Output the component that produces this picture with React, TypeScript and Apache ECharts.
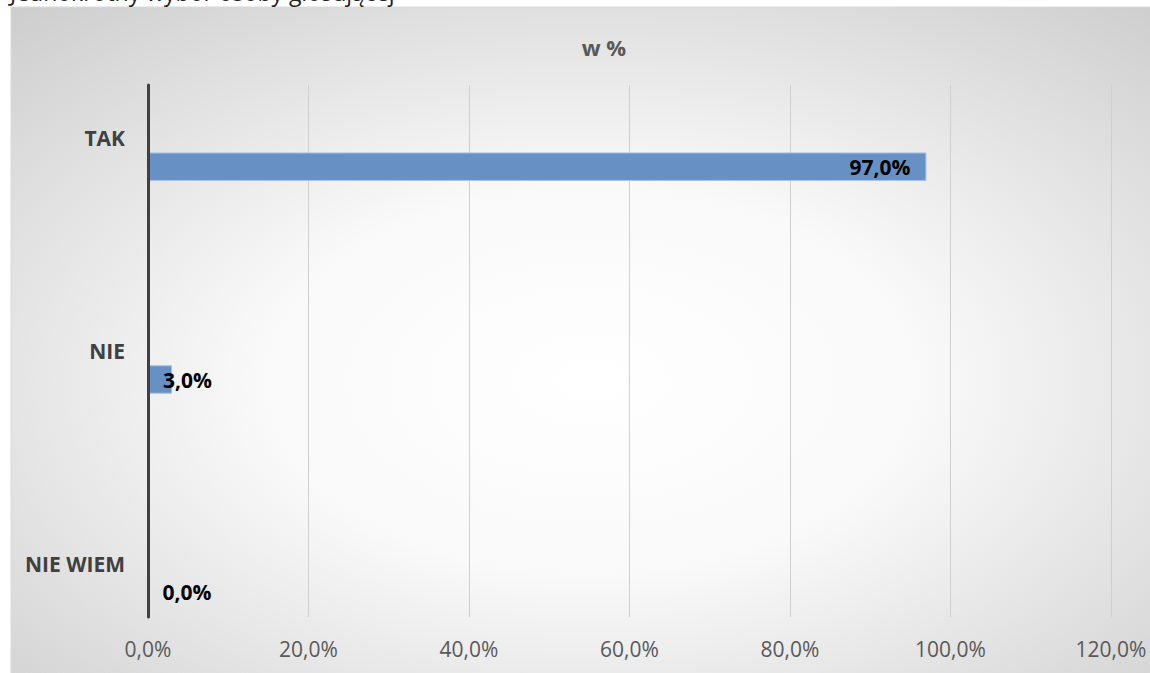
import React, { useEffect, useRef } from "react";
import * as echarts from "echarts";

const categories = ["TAK", "NIE", "NIE WIEM"];
const values = [97.0, 3.0, 0.0];
const xMax = 120;
const xInterval = 20;
const titleText = "w %";
const headerText = "Jednokrotny wybór osoby głosującej";

const fmt = (v: number) => v.toFixed(1).replace(".", ",") + "%";

export default function App() {
  const ref = useRef<HTMLDivElement>(null);
  useEffect(() => {
    if (!ref.current) return;
    const chart = echarts.init(ref.current, null, { renderer: "svg" });
    // 5 slots: category, gap, category, gap, category
    const slots: string[] = [];
    const slotValues: any[] = [];
    categories.forEach((c, i) => {
      if (i > 0) {
        slots.push("");
        slotValues.push("-");
      }
      slots.push(c);
      const v = values[i];
      slotValues.push({
        value: v,
        label: v > 50
          ? { position: "insideRight", distance: 16 }
          : { position: "insideLeft", distance: 15 },
      });
    });
    const font = "'Open Sans', sans-serif";
    chart.setOption({
      animation: false,
      graphic: [
        {
          type: "rect",
          z: -10,
          silent: true,
          shape: { x: 11, y: 7, width: 1160, height: 680 },
          style: {
            fill: new echarts.graphic.RadialGradient(0.5, 0.55, 0.95, [
              { offset: 0, color: "#ffffff" },
              { offset: 0.3, color: "#f9f9f9" },
              { offset: 1, color: "#b9b9b9" },
            ]),
            stroke: "#d9d9d9",
            lineWidth: 1,
          },
        },
        {
          type: "text",
          x: 10,
          y: 3,
          style: {
            text: headerText,
            font: `23px ${font}`,
            fill: "#222222",
            verticalAlign: "bottom",
          },
        },
        {
          type: "text",
          x: 604,
          y: 47,
          style: {
            text: titleText,
            font: `bold 22px ${font}`,
            fill: "#595959",
            align: "center",
            verticalAlign: "middle",
          },
        },
      ],
      grid: { left: 148, top: 85, width: 963, height: 532, containLabel: false },
      xAxis: {
        type: "value",
        min: 0,
        max: xMax,
        interval: xInterval,
        axisLine: { show: false },
        axisTick: { show: false },
        splitLine: { show: true, lineStyle: { color: "#cfcfcf", width: 1 } },
        axisLabel: {
          formatter: (v: number) => fmt(v),
          color: "#595959",
          fontFamily: font,
          fontSize: 21,
          margin: 21,
        },
      },
      yAxis: {
        type: "category",
        data: slots,
        inverse: true,
        z: 5,
        axisLine: { show: true, lineStyle: { color: "#404040", width: 3 } },
        axisTick: { show: false },
        splitLine: { show: false },
        axisLabel: {
          color: "#404040",
          fontFamily: font,
          fontSize: 21,
          fontWeight: "bold",
          margin: 23,
          interval: 0,
        },
      },
      series: [
        {
          type: "bar",
          name: "pad",
          data: slots.map(() => "-"),
          barWidth: 28.5,
          barGap: "100%",
          silent: true,
        },
        {
          type: "bar",
          name: "w %",
          data: slotValues,
          barWidth: 28.5,
          barGap: "100%",
          itemStyle: { color: "#6791c5", borderColor: "#a9c2e3", borderWidth: 1 },
          label: {
            show: true,
            formatter: (p: any) => fmt(p.value),
            color: "#000000",
            fontFamily: font,
            fontSize: 21,
            fontWeight: "bold",
          },
        },
      ],
    });
    return () => chart.dispose();
  }, []);
  return (
    <div
      ref={ref}
      style={{ position: "absolute", left: 0, top: 0, width: 1150, height: 673 }}
    />
  );
}
